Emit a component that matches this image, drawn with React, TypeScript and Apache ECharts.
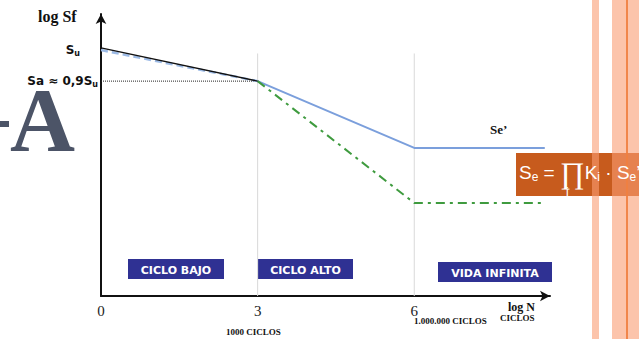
import React, { useEffect, useRef } from "react";
import * as echarts from "echarts";

// log N (cycles) positions of the curve vertices
const logN = [0, 3, 6, 8.5];
// log Sf values (arbitrary units)
const blackCurve = [88, 76.2];
const dashedCurve = [87.2, 76.2];
const seBlue = [null, 76.2, 52.5, 52.5];
const seGreen = [null, 76.2, 33, 33];
const saLevel = 76.2;
const gridLinesX = [3, 6];
const gridLineTop = 86;
const xTickLabels = ["0", "3", "6"];

const serif = '"Liberation Serif", "DejaVu Serif", serif';
const sans = '"DejaVu Sans", Verdana, sans-serif';
const arial = '"Liberation Sans", Arial, sans-serif';

export default function App() {
  const ref = useRef<HTMLDivElement>(null);
  useEffect(() => {
    if (!ref.current) return;
    const chart = echarts.init(ref.current, null, { renderer: "svg" });

    const pairs = (vals: (number | null)[]) =>
      vals
        .map((v, i) => (v === null || i >= logN.length ? null : [logN[i], v]))
        .filter((p) => p !== null);

    const series: any[] = [];
    gridLinesX.forEach((gx) => {
      series.push({
        type: "line",
        data: [
          [gx, 0],
          [gx, gridLineTop],
        ],
        symbol: "none",
        lineStyle: { color: "#d9d9d9", width: 1 },
        z: 1,
      });
    });
    series.push({
      type: "line",
      data: [
        [logN[0], saLevel],
        [logN[1], saLevel],
      ],
      symbol: "none",
      lineStyle: { color: "#222", width: 1, type: [1, 1] },
      z: 2,
    });
    series.push({
      type: "line",
      data: pairs(dashedCurve),
      symbol: "none",
      lineStyle: { color: "#9dbbe6", width: 2.5, type: [7, 4] },
      z: 3,
    });
    series.push({
      type: "line",
      data: pairs(blackCurve),
      symbol: "none",
      lineStyle: { color: "#111", width: 1.3 },
      z: 4,
    });
    series.push({
      type: "line",
      data: pairs(seBlue),
      symbol: "none",
      lineStyle: { color: "#7b9fdc", width: 2 },
      z: 3,
    });
    series.push({
      type: "line",
      data: pairs(seGreen),
      symbol: "none",
      lineStyle: { color: "#3f9b3f", width: 2, type: [9, 5, 3, 5] },
      z: 3,
    });

    const box = (x: number, y: number, w: number, h: number, text: string) => ({
      type: "group",
      children: [
        { type: "rect", shape: { x, y, width: w, height: h }, style: { fill: "#2f3193" } },
        {
          type: "text",
          style: {
            text,
            x: x + w / 2,
            y: y + h / 2 + 1,
            align: "center",
            verticalAlign: "middle",
            fill: "#fff",
            fontFamily: sans,
            fontWeight: "bold",
            fontSize: 11,
          },
        },
      ],
    });

    const txt = (text: string, x: number, y: number, size: number, extra: any = {}) => ({
      type: "text",
      style: {
        text,
        x,
        y,
        fontFamily: serif,
        fontWeight: "bold",
        fontSize: size,
        fill: "#111",
        verticalAlign: "middle",
        ...extra,
      },
    });

    const subRich = {
      b: { fontFamily: sans, fontWeight: "bold", fontSize: 12, fill: "#111", color: "#111" },
      s: { fontFamily: sans, fontWeight: "bold", fontSize: 8, fill: "#111", color: "#111", padding: [7, 0, 0, 0] },
    };

    const stripeColor = "#fa9d73";

    chart.setOption({
      animation: false,
      grid: { left: 101, right: 89, top: 14, bottom: 43 },
      xAxis: {
        type: "value",
        min: 0,
        max: 8.6,
        interval: 3,
        axisLine: { lineStyle: { color: "#111", width: 2 }, symbol: ["none", "arrow"], symbolSize: [8, 10] },
        axisTick: { show: false },
        splitLine: { show: false },
        axisLabel: {
          formatter: (v: number) => (xTickLabels.includes(String(v)) ? String(v) : ""),
          fontFamily: serif,
          fontSize: 15,
          color: "#222",
          margin: 7,
          showMaxLabel: false,
        },
      },
      yAxis: {
        type: "value",
        min: 0,
        max: 100,
        axisLine: { show: true, lineStyle: { color: "#111", width: 2 }, symbol: ["none", "arrow"], symbolSize: [8, 10] },
        axisTick: { show: false },
        splitLine: { show: false },
        axisLabel: { show: false },
      },
      series,
      graphic: [
        txt("log Sf", 38, 16, 16),
        {
          type: "text",
          style: { text: "{b|S}{s|u}", x: 80, y: 50, align: "right", verticalAlign: "middle", rich: subRich },
        },
        {
          type: "text",
          style: { text: "{b|Sa ≈ 0,9S}{s|u}", x: 98, y: 81, align: "right", verticalAlign: "middle", rich: subRich },
        },
        txt("Se’", 490, 129, 13),
        txt("log N", 508, 307, 12),
        txt("CICLOS", 500, 318, 9),
        txt("1.000.000 CICLOS", 414, 321, 9),
        txt("1000 CICLOS", 226, 332, 9),
        { type: "rect", shape: { x: 0, y: 121, width: 9, height: 6 }, style: { fill: "#4c5467" } },
        {
          type: "text",
          style: {
            text: "A",
            x: 10,
            y: 120,
            fontFamily: serif,
            fontWeight: "bold",
            fontSize: 90,
            lineHeight: 60,
            fill: "#4c5467",
            verticalAlign: "middle",
          },
        },
        box(128, 259, 96, 20, "CICLO BAJO"),
        box(258, 259, 95, 20, "CICLO ALTO"),
        box(438, 262, 114, 20, "VIDA INFINITA"),
        { type: "rect", shape: { x: 516, y: 153, width: 123, height: 43 }, style: { fill: "#c75b1d" } },
        { type: "rect", shape: { x: 592, y: 0, width: 7, height: 339 }, style: { fill: stripeColor, opacity: 0.6 } },
        { type: "rect", shape: { x: 612, y: 0, width: 27, height: 339 }, style: { fill: stripeColor, opacity: 0.6 } },
        { type: "rect", shape: { x: 626, y: 0, width: 2, height: 339 }, style: { fill: "#f08040", opacity: 0.9 } },
        {
          type: "text",
          z: 100,
          style: {
            text: "{a|S}{s|e}{a| = }{p|∏}{a|K}{s|i}{a| · S}{s|e}{a|’}",
            x: 519,
            y: 172,
            verticalAlign: "middle",
            rich: {
              a: { fontFamily: arial, fontSize: 19, fill: "#fff", color: "#fff" },
              s: { fontFamily: arial, fontSize: 12, fill: "#fff", color: "#fff", padding: [10, 0, 0, 0] },
              p: { fontFamily: serif, fontSize: 30, fill: "#fff", color: "#fff" },
            },
          },
        },
        {
          type: "text",
          z: 100,
          style: { text: "i", x: 566, y: 192, fontFamily: arial, fontSize: 12, fill: "#fff", verticalAlign: "middle" },
        },
      ],
    });
    return () => chart.dispose();
  }, []);
  return (
    <div
      ref={ref}
      style={{ position: "absolute", left: 0, top: 0, width: 639, height: 339, background: "#fff" }}
    />
  );
}
